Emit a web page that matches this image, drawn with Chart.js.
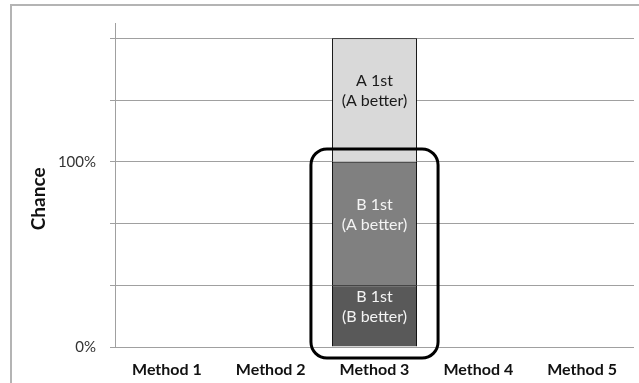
<!DOCTYPE html>
<html>
<head>
<meta charset="utf-8">
<script src="https://cdn.jsdelivr.net/npm/chart.js@4.4.1/dist/chart.umd.min.js"></script>
<style>
  html, body { margin: 0; padding: 0; background: #fff; overflow: hidden; }
  #wrap { position: relative; width: 639px; height: 383px; }
  #frame { position: absolute; left: 10px; top: 4px; width: 700px; height: 500px; border: 2px solid #b4b4b4; }
  #chart { position: absolute; left: 0; top: 0; }
</style>
</head>
<body>
<div id="wrap">
  <div id="frame"></div>
  <canvas id="chart" width="639" height="383"></canvas>
</div>
<script>
document.addEventListener('DOMContentLoaded', () => {
    const categories = ['Method 1', 'Method 2', 'Method 3', 'Method 4', 'Method 5'];

    // stacked from the bottom up, only Method 3 has values
    const bFirstBBetter = [null, null, 33.3, null, null];
    const bFirstABetter = [null, null, 66.7, null, null];
    const aFirstABetter = [null, null, 66.7, null, null];

    const segmentLabels = [
        ['B 1st', '(B better)'],
        ['B 1st', '(A better)'],
        ['A 1st', '(A better)']
    ];

    const yTicks = [0, 33.3, 66.7, 100, 133.3, 166.7];
    const yTickLabels = ['0%', '', '', '100%', '', ''];

    // the rounded box around Method 3, in axis values
    const highlightCategory = 2;
    const highlightTop = 107;
    const highlightBottom = -6;

    const fontFamily = 'Lato, "Open Sans", sans-serif';
    const gridColor = '#a0a0a0';

    // labels inside the bar segments
    const segmentLabelPlugin = {
        id: 'segmentLabels',
        afterDatasetsDraw(chart) {
            const ctx = chart.ctx;
            ctx.save();
            ctx.font = '16px ' + fontFamily;
            ctx.textAlign = 'center';
            ctx.textBaseline = 'middle';
            chart.data.datasets.forEach((ds, i) => {
                const meta = chart.getDatasetMeta(i);
                meta.data.forEach((bar, j) => {
                    if (ds.data[j] == null) return;
                    const cy = (bar.y + bar.base) / 2 - 9;
                    ctx.fillStyle = i === 2 ? '#1a1a1a' : '#f4f4f4';
                    const lines = segmentLabels[i];
                    ctx.fillText(lines[0], bar.x, cy - 10);
                    ctx.fillText(lines[1], bar.x, cy + 10);
                });
            });
            ctx.restore();
        }
    };

    const highlightPlugin = {
        id: 'highlightBox',
        afterDatasetsDraw(chart) {
            const ctx = chart.ctx;
            const bar = chart.getDatasetMeta(0).data[highlightCategory];
            const y = chart.scales.y;
            const half = bar.width / 2 + 21;
            const x0 = bar.x - half;
            const x1 = bar.x + half;
            const y0 = y.getPixelForValue(highlightTop);
            const y1 = y.getPixelForValue(highlightBottom);
            ctx.save();
            ctx.strokeStyle = '#000';
            ctx.lineWidth = 3;
            ctx.beginPath();
            ctx.roundRect(x0, y0, x1 - x0, y1 - y0, 16);
            ctx.stroke();
            ctx.restore();
        }
    };

    const ctx = document.getElementById('chart').getContext('2d');
    new Chart(ctx, {
        type: 'bar',
        data: {
            labels: categories,
            datasets: [
                { label: 'B 1st (B better)', data: bFirstBBetter, backgroundColor: '#595959', borderColor: '#000', borderWidth: 1 },
                { label: 'B 1st (A better)', data: bFirstABetter, backgroundColor: '#808080', borderColor: '#000', borderWidth: 1 },
                { label: 'A 1st (A better)', data: aFirstABetter, backgroundColor: '#d9d9d9', borderColor: '#000', borderWidth: 1 }
            ]
        },
        options: {
            responsive: false,
            animation: false,
            layout: { padding: { top: 22, right: 5, left: 0, bottom: 0 } },
            datasets: {
                bar: { barPercentage: 0.82, categoryPercentage: 1 }
            },
            plugins: {
                legend: { display: false },
                tooltip: { enabled: false }
            },
            scales: {
                x: {
                    stacked: true,
                    grid: { display: false },
                    border: { display: false },
                    ticks: {
                        color: '#111',
                        padding: 5,
                        font: { family: fontFamily, size: 16, weight: 'bold' }
                    },
                    afterFit: scale => { scale.height = 36; }
                },
                y: {
                    stacked: true,
                    min: 0,
                    max: 175,
                    afterBuildTicks: scale => {
                        scale.ticks = yTicks.map(v => ({ value: v }));
                    },
                    afterFit: scale => { scale.width = 115; },
                    grid: { color: gridColor, lineWidth: 1, tickLength: 5 },
                    border: { color: gridColor, width: 1 },
                    ticks: {
                        color: '#333',
                        padding: 14,
                        font: { family: fontFamily, size: 15 },
                        callback: (value, index) => yTickLabels[index]
                    },
                    title: {
                        display: true,
                        // trailing spaces push the word a little below the centre, as in the original
                        text: 'Chance      ',
                        color: '#111',
                        padding: { top: 27, bottom: 0 },
                        font: { family: fontFamily, size: 19, weight: 'bold' }
                    }
                }
            }
        },
        plugins: [segmentLabelPlugin, highlightPlugin]
    });
});
</script>
</body>
</html>
